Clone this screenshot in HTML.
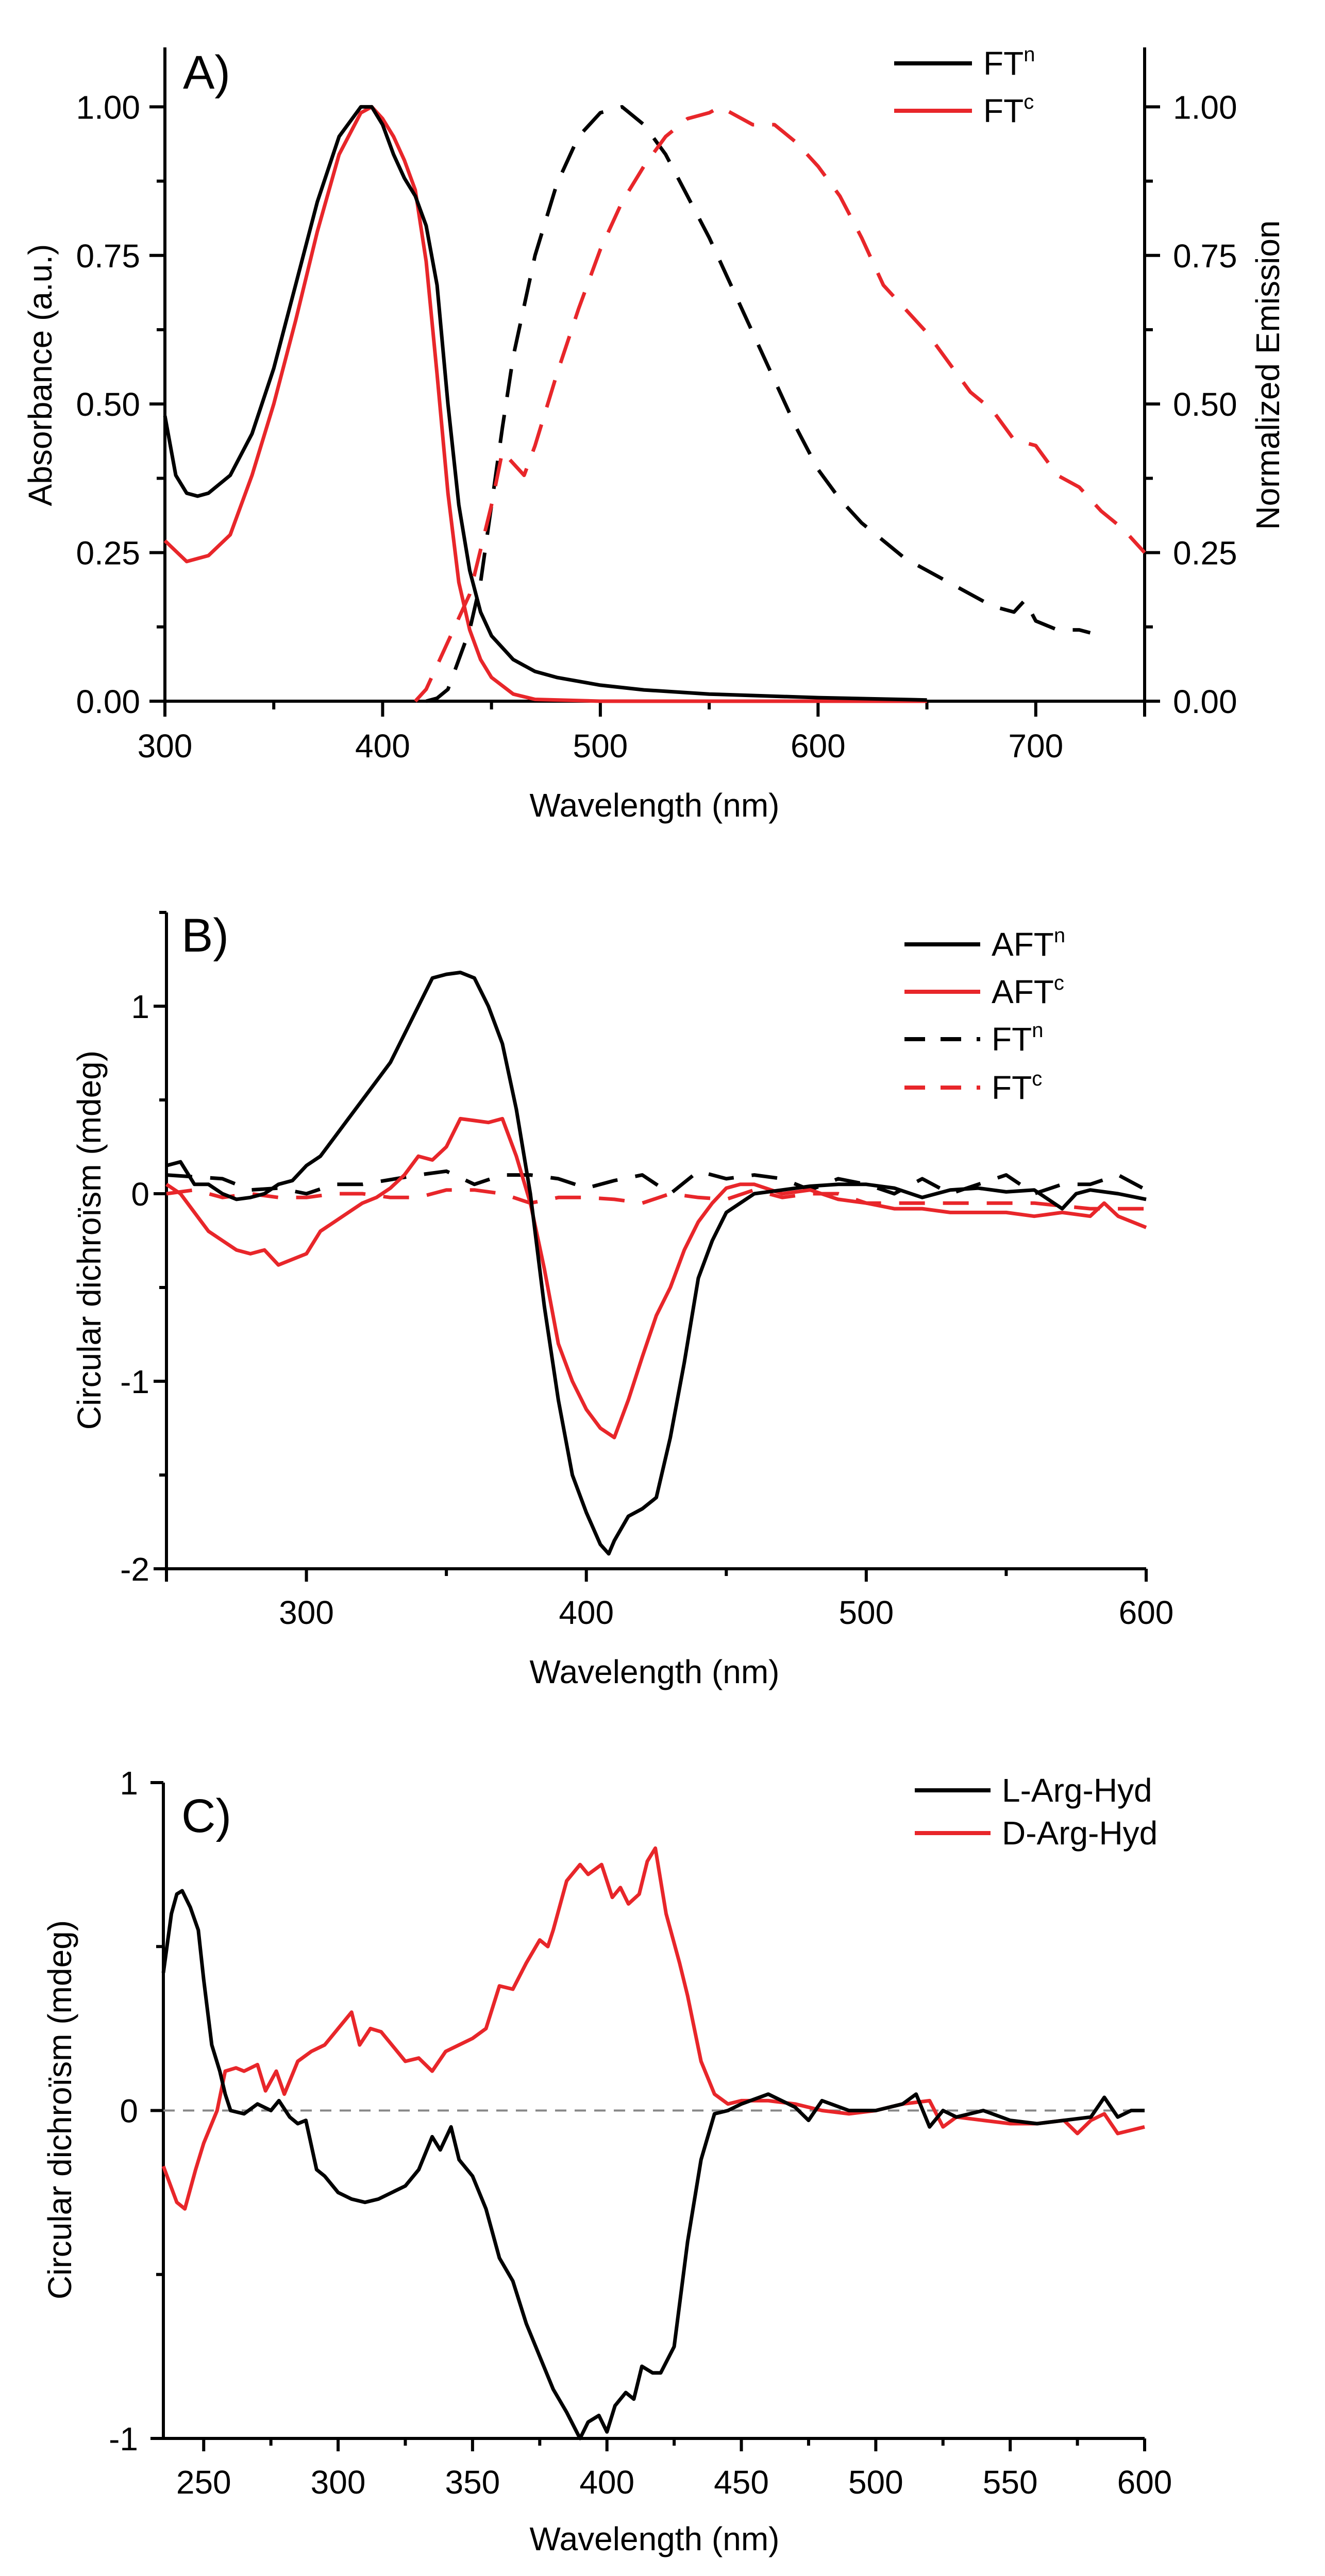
<!DOCTYPE html>
<html><head><meta charset="utf-8">
<style>
html,body{margin:0;padding:0;background:#fff;overflow:hidden;width:2571px;height:5023px;}
svg{display:block;font-family:"Liberation Sans",Arial,sans-serif;}
</style></head>
<body>
<svg id="fig" width="2571" height="5023" viewBox="0 0 2571 5023" xmlns="http://www.w3.org/2000/svg"></svg>
<script>
// ---- Panel A data ----
const aAbsN_x=[300,305,310,315,320,330,340,350,360,370,380,390,395,400,405,410,415,420,425,430,435,440,445,450,460,470,480,500,520,550,600,650];
const aAbsN_y=[0.48,0.38,0.35,0.345,0.35,0.38,0.45,0.56,0.70,0.84,0.95,1.0,1.0,0.97,0.92,0.88,0.85,0.80,0.70,0.50,0.33,0.22,0.15,0.11,0.07,0.05,0.04,0.027,0.019,0.012,0.006,0.002];
const aAbsC_x=[300,310,320,330,340,350,360,370,380,390,395,400,405,410,415,420,425,430,435,440,445,450,460,470,500,650];
const aAbsC_y=[0.27,0.235,0.245,0.28,0.38,0.50,0.64,0.79,0.92,0.99,1.0,0.98,0.95,0.91,0.86,0.74,0.55,0.35,0.2,0.12,0.07,0.04,0.012,0.003,0,0];
const aEmN_x=[420,425,430,440,445,450,455,460,470,480,490,500,510,520,530,540,550,560,570,580,590,600,610,620,630,640,650,660,670,680,690,695,700,710,720,725];
const aEmN_y=[0,0.005,0.02,0.12,0.2,0.33,0.46,0.58,0.75,0.87,0.95,0.99,1.0,0.97,0.92,0.85,0.78,0.7,0.62,0.54,0.46,0.39,0.34,0.3,0.27,0.24,0.22,0.2,0.18,0.16,0.15,0.17,0.135,0.12,0.12,0.115];
const aEmC_x=[415,420,430,440,450,455,460,465,470,480,490,500,510,520,530,540,550,555,560,570,580,590,600,610,620,630,640,650,660,670,680,690,700,710,720,730,740,750];
const aEmC_y=[0,0.02,0.1,0.18,0.33,0.42,0.4,0.38,0.43,0.55,0.66,0.76,0.84,0.9,0.95,0.98,0.99,1.0,0.99,0.97,0.97,0.94,0.9,0.85,0.78,0.7,0.66,0.62,0.57,0.52,0.49,0.44,0.43,0.38,0.36,0.32,0.29,0.25];
const aXTicks=[300,400,500,600,700];
const aYTicks=[0,0.25,0.5,0.75,1.0];
const aYLabels=["0.00","0.25","0.50","0.75","1.00"];
// ---- Panel B data ----
const bAftN_x=[250,255,260,265,270,275,280,285,290,295,300,305,310,315,320,325,330,335,340,345,350,355,360,365,370,375,380,385,390,395,400,405,408,410,415,420,425,430,435,440,445,450,455,460,470,480,490,500,510,520,530,540,550,560,570,575,580,590,600];
const bAftN_y=[0.15,0.17,0.05,0.05,0.0,-0.03,-0.02,0.0,0.05,0.07,0.15,0.2,0.3,0.4,0.5,0.6,0.7,0.85,1.0,1.15,1.17,1.18,1.15,1.0,0.8,0.45,0.0,-0.6,-1.1,-1.5,-1.7,-1.87,-1.92,-1.85,-1.72,-1.68,-1.62,-1.3,-0.9,-0.45,-0.25,-0.1,-0.05,0.0,0.02,0.04,0.05,0.05,0.03,-0.02,0.02,0.03,0.01,0.02,-0.08,0.0,0.02,0.0,-0.03];
const bAftC_x=[250,255,260,265,270,275,280,285,290,295,300,305,310,315,320,325,330,335,340,345,350,355,360,365,370,375,380,385,390,395,400,405,410,415,420,425,430,435,440,445,450,455,460,470,480,490,500,510,520,530,540,550,560,570,580,585,590,600];
const bAftC_y=[0.05,0.0,-0.1,-0.2,-0.25,-0.3,-0.32,-0.3,-0.38,-0.35,-0.32,-0.2,-0.15,-0.1,-0.05,-0.02,0.03,0.1,0.2,0.18,0.25,0.4,0.39,0.38,0.4,0.2,-0.05,-0.4,-0.8,-1.0,-1.15,-1.25,-1.3,-1.1,-0.87,-0.65,-0.5,-0.3,-0.15,-0.05,0.03,0.05,0.05,0.0,0.02,-0.03,-0.05,-0.08,-0.08,-0.1,-0.1,-0.1,-0.12,-0.1,-0.12,-0.05,-0.12,-0.18];
const bFtN_x=[250,270,280,290,300,310,320,340,350,360,370,380,390,400,410,420,430,440,450,460,470,480,490,500,510,520,530,540,550,560,570,580,590,600];
const bFtN_y=[0.1,0.08,0.02,0.03,0.0,0.05,0.05,0.1,0.12,0.05,0.1,0.1,0.08,0.03,0.07,0.1,0.0,0.12,0.08,0.1,0.08,0.02,0.08,0.05,0.0,0.08,0.0,0.05,0.1,0.0,0.05,0.05,0.1,0.02];
const bFtC_x=[250,260,270,280,290,300,310,320,330,340,350,360,370,380,390,400,410,420,430,440,450,460,470,480,490,500,520,540,560,580,600];
const bFtC_y=[0.0,0.02,-0.02,0.0,-0.02,-0.02,0.0,0.0,-0.02,-0.02,0.02,0.02,0.0,-0.05,-0.02,-0.02,-0.03,-0.05,0.0,-0.02,-0.03,0.02,-0.02,0.0,0.0,-0.05,-0.05,-0.05,-0.05,-0.08,-0.08];
const bXTicks=[300,400,500,600];
const bYTicks=[-2,-1,0,1];
// ---- Panel C data ----
const cL_x=[235,238,240,242,245,248,250,253,256,258,260,265,270,275,278,282,285,288,292,295,300,305,310,315,320,325,330,335,338,342,345,350,355,360,365,370,375,380,385,390,393,397,400,403,407,410,413,417,420,425,430,435,440,445,450,460,465,470,475,480,490,500,510,515,520,525,530,540,550,560,570,580,585,590,595,600];
const cL_y=[0.42,0.6,0.66,0.67,0.62,0.55,0.4,0.2,0.12,0.05,0.0,-0.01,0.02,0.0,0.03,-0.02,-0.04,-0.03,-0.18,-0.2,-0.25,-0.27,-0.28,-0.27,-0.25,-0.23,-0.18,-0.08,-0.12,-0.05,-0.15,-0.2,-0.3,-0.45,-0.52,-0.65,-0.75,-0.85,-0.92,-1.0,-0.95,-0.93,-0.98,-0.9,-0.86,-0.88,-0.78,-0.8,-0.8,-0.72,-0.4,-0.15,-0.01,0.0,0.02,0.05,0.03,0.01,-0.03,0.03,0.0,0.0,0.02,0.05,-0.05,0.0,-0.02,0.0,-0.03,-0.04,-0.03,-0.02,0.04,-0.02,0.0,0.0];
const cD_x=[235,240,243,247,250,255,258,262,265,270,273,277,280,285,290,295,300,305,308,312,316,320,325,330,335,340,345,350,355,360,365,370,375,378,380,385,390,393,398,402,405,408,412,415,418,422,427,430,435,440,445,450,460,470,480,490,500,510,520,525,530,540,550,560,570,575,580,585,590,600];
const cD_y=[-0.17,-0.28,-0.3,-0.18,-0.1,0.0,0.12,0.13,0.12,0.14,0.06,0.12,0.05,0.15,0.18,0.2,0.25,0.3,0.2,0.25,0.24,0.2,0.15,0.16,0.12,0.18,0.2,0.22,0.25,0.38,0.37,0.45,0.52,0.5,0.55,0.7,0.75,0.72,0.75,0.65,0.68,0.63,0.66,0.76,0.8,0.6,0.45,0.35,0.15,0.05,0.02,0.03,0.03,0.02,0.0,-0.01,0.0,0.02,0.03,-0.05,-0.02,-0.03,-0.04,-0.04,-0.03,-0.07,-0.03,-0.01,-0.07,-0.05];
const cXTicks=[250,300,350,400,450,500,550,600];
const cYTicks=[-1,0,1];

const NS="http://www.w3.org/2000/svg";
const svg=document.getElementById('fig');
function mk(tag,attrs,parent){const e=document.createElementNS(NS,tag);for(const k in attrs)e.setAttribute(k,attrs[k]);(parent||svg).appendChild(e);return e;}
function scale(d0,d1,r0,r1){return v=>r0+(v-d0)/(d1-d0)*(r1-r0);}
function series(g,xs,ys,X,Y,color,dash,name){
  let d='';for(let i=0;i<xs.length;i++){d+=(i?'L':'M')+X(xs[i]).toFixed(1)+' '+Y(ys[i]).toFixed(1);}
  const p=mk('path',{d:d,fill:'none',stroke:color,'stroke-width':7,'stroke-linejoin':'round'},g);
  if(dash)p.setAttribute('stroke-dasharray',dash);
  
  
}
function text(g,x,y,s,size,anchor,name,rot){
  const t=mk('text',{x:x,y:y,'font-size':size,'text-anchor':anchor||'middle',fill:'#000'},g);
  if(rot)t.setAttribute('transform','rotate('+rot+' '+x+' '+y+')');
  t.textContent=s;
  
  
  return t;
}
function line(g,x1,y1,x2,y2,w,name){const l=mk('line',{x1:x1,y1:y1,x2:x2,y2:y2,stroke:'#000','stroke-width':w||6},g);
  
  return l;}
function legend(g,x1,x2,y,color,dash,label,sup,name){
  const l=mk('line',{x1:x1,y1:y,x2:x2,y2:y,stroke:color,'stroke-width':8},g);
  if(dash)l.setAttribute('stroke-dasharray',dash);
  
  
  const t=mk('text',{x:x2+22,y:y+22,'font-size':64,fill:'#000'},g);
  
  
  t.appendChild(document.createTextNode(label));
  if(sup){const ts=mk('tspan',{'font-size':40,dy:-26},t);ts.textContent=sup;}
}

// ===== Panel A =====
(function(){
  const g=mk('g',{});
  
  
  const L=320,R=2221,T=92,B=1361;
  const X=scale(300,750,L,R),Y=scale(0,1.1,B,T);
  line(g,L,T,L,B+30,6,'left-y-axis');line(g,R,T,R,B+30,6,'right-y-axis');line(g,L-30,B,R,B,6,'x-axis');
  for(let v=300;v<=750;v+=50){const maj=(v%100===0);line(g,X(v),B,X(v),B+(maj?30:16),6,'x-tick');}
  aXTicks.forEach(v=>text(g,X(v),1470,String(v),64,'middle','x-tick-label'));
  for(let v=0;v<=1.0001;v+=0.125){const maj=Math.abs(v*4-Math.round(v*4))<1e-6;
    line(g,L-(maj?30:16),Y(v),L,Y(v),6,'left-y-tick');line(g,R,Y(v),R+(maj?30:16),Y(v),6,'right-y-tick');}
  aYTicks.forEach((v,i)=>{text(g,272,Y(v)+23,aYLabels[i],64,'end','left-y-tick-label');text(g,2276,Y(v)+23,aYLabels[i],64,'start','right-y-tick-label');});
  text(g,1270,1585,'Wavelength (nm)',64,'middle','x-axis-title');
  text(g,100,728,'Absorbance (a.u.)',64,'middle','left-y-axis-title',-90);
  text(g,2482,728,'Normalized Emission',64,'middle','right-y-axis-title',-90);
  text(g,355,172,'A)',92,'start','panel-label-a');
  series(g,aAbsC_x,aAbsC_y,X,Y,'#e8262a',null,'absorbance-ftc');
  series(g,aAbsN_x,aAbsN_y,X,Y,'#000',null,'absorbance-ftn');
  series(g,aEmN_x,aEmN_y,X,Y,'#000','55 35','emission-ftn');
  series(g,aEmC_x,aEmC_y,X,Y,'#e8262a','55 35','emission-ftc');
  legend(g,1735,1886,123,'#000',null,'FT','n','legend-ftn');
  legend(g,1735,1886,215,'#e8262a',null,'FT','c','legend-ftc');
})();

// ===== Panel B =====
(function(){
  const g=mk('g',{});
  
  
  const L=323,R=2224,T=1771,B=3045;
  const X=scale(250,600,L,R),Y=scale(-2,1.5,B,T);
  line(g,L,T,L,B+25,6,'y-axis');line(g,L-25,B,R,B,6,'x-axis');
  for(let v=250;v<=600;v+=50){const maj=(v%100===0);line(g,X(v),B,X(v),B+(maj?25:14),6,'x-tick');}
  bXTicks.forEach(v=>text(g,X(v),3152,String(v),64,'middle','x-tick-label'));
  for(let v=-2;v<=1.5001;v+=0.5){const maj=Number.isInteger(v);line(g,L-(maj?25:14),Y(v),L,Y(v),6,'y-tick');}
  bYTicks.forEach(v=>text(g,290,Y(v)+23,String(v),64,'end','y-tick-label'));
  text(g,1270,3267,'Wavelength (nm)',64,'middle','x-axis-title');
  text(g,195,2407,'Circular dichroïsm (mdeg)',64,'middle','y-axis-title',-90);
  text(g,352,1847,'B)',92,'start','panel-label-b');
  series(g,bFtN_x,bFtN_y,X,Y,'#000','50 35','cd-ftn');
  series(g,bFtC_x,bFtC_y,X,Y,'#e8262a','50 35','cd-ftc');
  series(g,bAftC_x,bAftC_y,X,Y,'#e8262a',null,'cd-aftc');
  series(g,bAftN_x,bAftN_y,X,Y,'#000',null,'cd-aftn');
  legend(g,1755,1902,1833,'#000',null,'AFT','n','legend-aftn');
  legend(g,1755,1902,1925,'#e8262a',null,'AFT','c','legend-aftc');
  legend(g,1755,1902,2017,'#000','40 30','FT','n','legend-ftn-b');
  legend(g,1755,1902,2111,'#e8262a','40 30','FT','c','legend-ftc-b');
})();

// ===== Panel C =====
(function(){
  const g=mk('g',{});
  
  
  const L=317,R=2221,T=3460,B=4733;
  const X=scale(235,600,L,R),Y=scale(-1,1,B,T);
  line(g,L,T,L,B,6,'y-axis');line(g,L-25,B,R,B,6,'x-axis');
  for(let v=250;v<=600;v+=25){const maj=(v%50===0);line(g,X(v),B,X(v),B+(maj?25:14),6,'x-tick');}
  cXTicks.forEach(v=>text(g,X(v),4840,String(v),64,'middle','x-tick-label'));
  for(let v=-1;v<=1.0001;v+=0.5){const maj=Number.isInteger(v);line(g,L-(maj?25:14),Y(v),L,Y(v),6,'y-tick');}
  cYTicks.forEach(v=>text(g,268,Y(v)+23,String(v),64,'end','y-tick-label'));
  const z=mk('line',{x1:L,y1:Y(0),x2:R,y2:Y(0),stroke:'#888','stroke-width':4,'stroke-dasharray':'22 16'},g);
  
  
  text(g,1270,4950,'Wavelength (nm)',64,'middle','x-axis-title');
  text(g,138,4095,'Circular dichroïsm (mdeg)',64,'middle','y-axis-title',-90);
  text(g,352,3556,'C)',92,'start','panel-label-c');
  series(g,cD_x,cD_y,X,Y,'#e8262a',null,'cd-d-arg-hyd');
  series(g,cL_x,cL_y,X,Y,'#000',null,'cd-l-arg-hyd');
  legend(g,1775,1922,3475,'#000',null,'L-Arg-Hyd',null,'legend-l-arg-hyd');
  legend(g,1775,1922,3558,'#e8262a',null,'D-Arg-Hyd',null,'legend-d-arg-hyd');
})();
</script>
</body></html>
